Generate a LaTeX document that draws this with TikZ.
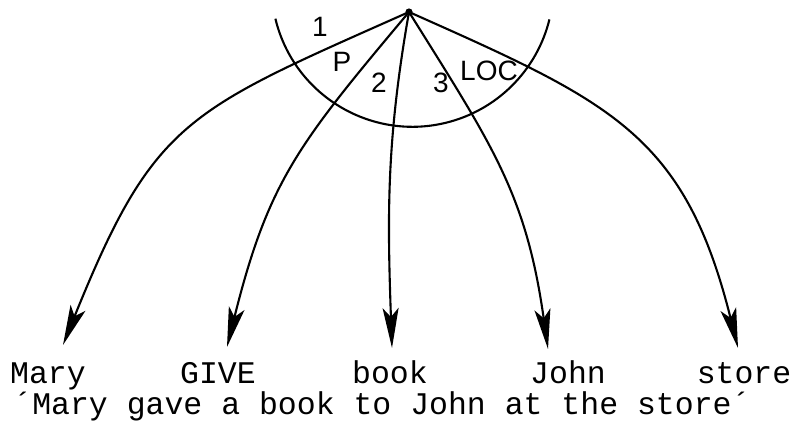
\documentclass[tikz,border=0pt]{standalone}
\usepackage{fontspec}
\newfontfamily\twfont{Liberation Mono}
\newfontfamily\labfont{Liberation Sans}
\usetikzlibrary{arrows.meta}
\begin{document}
\begin{tikzpicture}[x=1pt,y=1pt,
  conn/.style={line width=2.1pt, -{Stealth[length=40pt,width=16pt,inset=9pt]}},
  word/.style={font=\twfont\fontsize{31.5}{36}\selectfont, inner sep=0pt, anchor=base},
  lbl/.style={font=\labfont\fontsize{28}{32}\selectfont, inner sep=0pt},
  ]
\useasboundingbox (0,0) rectangle (795,424);
\coordinate (apex) at (409,412);
\fill (apex) circle (3.6);

% word nodes
\node[word] (mary)  at (48,41)  {Mary};
\node[word] (give)  at (218,41) {GIVE};
\node[word] (book)  at (390,41) {book};
\node[word] (john)  at (568,41) {John};
\node[word] (store) at (744,41) {store};
\node[word] (gloss) at (382,10) {´Mary gave a book to John at the store´};

% arrow tips
\coordinate (tMary)  at (63,79);
\coordinate (tGive)  at (227,77);
\coordinate (tBook)  at (392,76);
\coordinate (tJohn)  at (548,75);
\coordinate (tStore) at (738,76);

% connectors
\draw[conn] (apex) to[out=204,in=68,looseness=1.3] (tMary);
\draw[conn] (apex) to[out=230,in=76,looseness=1.15] (tGive);
\draw[conn] (apex) to[out=260,in=92] (tBook);
\draw[conn] (apex) to[out=302,in=98,looseness=1.1] (tJohn);
\draw[conn] (apex) to[out=336,in=104,looseness=1.2] (tStore);

% arc
\coordinate (arcL) at (275.4,405.3);
\draw[line width=2.1pt] (arcL) arc[start angle=193.5, end angle=346.2, radius=141];

% labels
\node[lbl] (l1)   at (320,397) {1};
\node[lbl] (lP)   at (342,362) {P};
\node[lbl] (l2)   at (379,341) {2};
\node[lbl] (l3)   at (441,341) {3};
\node[lbl] (lLOC) at (489,353) {LOC};
\end{tikzpicture}
\end{document}
